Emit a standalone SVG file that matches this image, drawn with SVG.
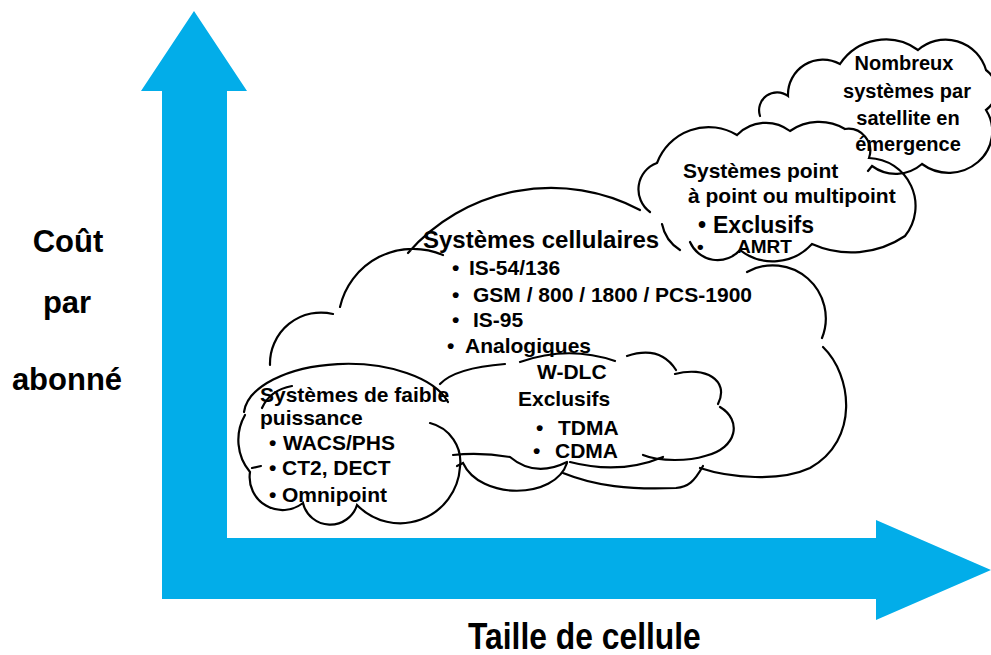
<svg xmlns="http://www.w3.org/2000/svg" width="991" height="655" viewBox="0 0 991 655">
<style>
.c{fill:none;stroke:#000;stroke-width:2.2;stroke-linecap:round}
text{font-family:"Liberation Sans",Arial,sans-serif;font-weight:bold;fill:#000}
.t20{font-size:20px}.t21{font-size:21px}.t24{font-size:24px}
.ax{font-size:31px;text-anchor:middle}
.mid{text-anchor:middle}
</style>
<rect width="991" height="655" fill="#fff"/>
<g id="axes">
<polygon fill="#02ADE9" points="194,11 247,91 227,91 227,538 876,538 876,520 991,570 876,620 876,599 162,599 162,91 141,91"/>
<text class="ax" x="68" y="252">Coût</text>
<text class="ax" x="67" y="313">par</text>
<text class="ax" x="67" y="390">abonné</text>
<text transform="translate(468,649) scale(0.86,1)" style="font-size:37px">Taille de cellule</text>
</g>
<g id="cloud-satellite">
<path class="c" d="M760,116 A18,18 0 0 1 788,96 A35,35 0 0 1 840,64 A55,55 0 0 1 918,50 A42,42 0 0 1 986,70 A25,25 0 0 1 986,110 A40,40 0 0 1 978,162 A45,45 0 0 1 922,164 A40,40 0 0 1 872,166 l-4,5"/>
<text class="t20 mid" x="904" y="70">Nombreux</text>
<text class="t20 mid" x="907" y="98">systèmes par</text>
<text class="t20 mid" x="908" y="125">satellite en</text>
<text class="t20 mid" x="908" y="151">émergence</text>
</g>
<g id="cloud-cellulaire">
<path class="c" d="M270,365 A51,51 0 0 1 333,314 M340,307 A75,75 0 0 1 443,255 M408,253 A190,190 0 0 1 640,210 M747,272 A53,53 0 0 1 822,338 M823,347 C852,375 860,440 810,468 C780,482 730,478 700,468 M703,466 C694,482 688,487 676,488 C630,490 595,486 563,473 M567,463 C555,500 480,500 463,463 l-6,3"/>
<text class="t24" x="423" y="248">Systèmes cellulaires</text>
<text class="t21" x="452" y="275">•<tspan x="469">IS-54/136</tspan></text>
<text class="t21" x="452" y="302">•<tspan x="473">GSM / 800 / 1800 / PCS-1900</tspan></text>
<text class="t21" x="452" y="327">•<tspan x="473">IS-95</tspan></text>
<text class="t21" x="447" y="353">•<tspan x="465">Analogiques</tspan></text>
</g>
<g id="cloud-wdlc">
<path class="c" d="M440,384 Q455,368 505,364 M520,362 Q568,345 615,361 M627,356 Q660,345 676,370 M675,374 C705,366 730,380 718,404 M720,407 C742,420 738,448 705,456 C690,461 660,462 643,455 M663,457 Q620,475 570,462 M567,462 Q535,478 510,457 Q480,452 453,455"/>
<text class="t21" x="537" y="379">W-DLC</text>
<text class="t21" x="518" y="406">Exclusifs</text>
<text class="t21" x="536" y="435">•<tspan x="558">TDMA</tspan></text>
<text class="t21" x="533" y="458">•<tspan x="555">CDMA</tspan></text>
</g>
<g id="cloud-faible">
<path class="c" d="M244,412 A104,52 0 0 1 448,402 M430,423 A40,40 0 0 1 460,467 A60,60 0 0 1 357,505 A28,28 0 0 1 303,503 A33,33 0 0 1 250,472 A50,50 0 0 1 245,415 M262,408 Q270,390 292,386 M252,468 l9,-2"/>
<text class="t21" x="260" y="402">Systèmes de faible</text>
<text class="t21" x="260" y="425">puissance</text>
<text class="t21" x="269" y="450">•<tspan x="283">WACS/PHS</tspan></text>
<text class="t21" x="269" y="475">•<tspan x="282">CT2, DECT</tspan></text>
<text class="t21" x="269" y="502">•<tspan x="282">Omnipoint</tspan></text>
</g>
<g id="cloud-point">
<path class="c" d="M680,250 A40,40 0 0 1 662,224 M650,212 A28,28 0 0 1 657,163 A55,55 0 0 1 737,135 A40,40 0 0 1 790,131 A51,51 0 0 1 845,129 A22,22 0 0 1 869,158 A48,48 0 0 1 905,236 A96,96 0 0 1 812,244 A53,53 0 0 1 740,250 A30,30 0 0 1 690,242"/>
<text class="t21" x="683" y="178">Systèmes point</text>
<text class="t21" x="688" y="203">à point ou multipoint</text>
<text style="font-size:23px" x="698" y="233">•<tspan x="713">Exclusifs</tspan></text>
<text style="font-size:19px" x="697" y="253">•<tspan x="737">AMRT</tspan></text>
</g>
</svg>
